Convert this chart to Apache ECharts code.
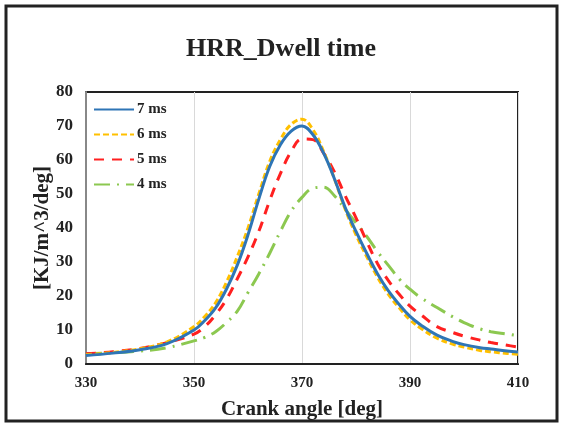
<!DOCTYPE html>
<html lang="en">
<head>
  <meta charset="UTF-8">
  <title>HRR_Dwell time</title>
  <style>
    html, body { margin: 0; padding: 0; background: #fff; }
    #main { width: 562px; height: 425px; }
  </style>
  <script src="https://cdn.jsdelivr.net/npm/echarts@6/dist/echarts.min.js"></script>
</head>
<body>
  <div id="main"></div>
  <script>
    // crank angle points (deg)
    var angles = [330, 335, 340, 345, 350, 352, 354, 356, 358, 360, 362, 364, 366, 368, 370, 372, 374, 376, 378, 380, 382, 384, 386, 388, 390, 392, 395, 398, 400, 403, 405, 408, 410];
    // heat release rate per dwell time
    var hrr7 = [2.5, 3.2, 4.2, 6, 10, 12.8, 16.5, 22, 29, 38, 48.5, 58, 64.5, 68.5, 70, 67.5, 62, 54.5, 46, 39, 32.5, 26.5, 21.5, 17.5, 14, 11.5, 8.5, 6.6, 5.7, 4.8, 4.4, 3.8, 3.5];
    var hrr6 = [2.7, 3.4, 4.5, 6.5, 11, 14, 18, 24, 31.5, 40, 50, 59.5, 66, 70.5, 72, 69, 62.5, 54.5, 45.5, 38, 31.5, 25.5, 20.5, 16.5, 13, 10.5, 7.6, 5.8, 5, 4, 3.6, 3.1, 2.9];
    var hrr5 = [3, 3.6, 4.6, 6.3, 8.8, 11, 14.5, 19, 25, 31.5, 39, 48, 56, 62.5, 66.2, 66, 62, 56.5, 49.5, 43, 36, 29.5, 24.5, 20.5, 17, 14.5, 11, 9.2, 8.2, 7, 6.3, 5.5, 5];
    var hrr4 = [3, 3.3, 3.8, 4.8, 6.8, 7.8, 9.5, 12.2, 15.5, 21, 26.5, 32.5, 39, 45, 49, 51.7, 52, 49.5, 45.5, 41.5, 37.5, 33, 29, 25, 22, 19.5, 16.6, 13.8, 12.2, 10.3, 9.5, 8.8, 8.3];

    var names = ['7 ms', '6 ms', '5 ms', '4 ms'];
    var colors = ['#2E75B6', '#FFC000', '#FF2020', '#8CC850'];
    var dashes = ['solid', [6, 3], [10, 8], [16, 7, 2, 7]];
    var values = [hrr7, hrr6, hrr5, hrr4];

    function pairs(ys) {
      return angles.map(function (a, i) { return [a, ys[i]]; });
    }

    var serif = 'Liberation Serif';
    var series = names.map(function (n, i) {
      return {
        name: n,
        type: 'line',
        data: pairs(values[i]),
        smooth: 0.4,
        showSymbol: false,
        symbol: 'none',
        lineStyle: { color: colors[i], width: 3, type: dashes[i] },
        itemStyle: { color: colors[i] },
        z: 10 - i
      };
    });

    var myChart = echarts.init(document.getElementById('main'));
    var option = {
      backgroundColor: '#fff',
      animation: false,
      title: {
        text: 'HRR_Dwell time',
        left: 'center',
        top: 31,
        textStyle: { fontFamily: serif, fontWeight: 'bold', fontSize: 26, color: '#222' }
      },
      // outer frame
      graphic: [{
        type: 'rect',
        shape: { x: 6, y: 6, width: 551, height: 415 },
        style: { fill: 'none', stroke: '#222', lineWidth: 3 },
        silent: true
      }],
      legend: {
        data: names,
        orient: 'vertical',
        left: 88,
        top: 97,
        itemWidth: 40,
        itemHeight: 12,
        itemGap: 10,
        itemStyle: { opacity: 0 },
        textStyle: { fontFamily: serif, fontWeight: 'bold', fontSize: 15, color: '#222', padding: [0, 0, 0, -2] }
      },
      grid: {
        left: 86,
        right: 44,
        top: 92,
        bottom: 60,
        show: true,
        borderColor: '#222',
        borderWidth: 2,
        containLabel: false
      },
      xAxis: {
        type: 'value',
        min: 330,
        max: 410,
        interval: 20,
        name: 'Crank angle [deg]',
        nameLocation: 'middle',
        nameGap: 35,
        nameTextStyle: { fontFamily: serif, fontWeight: 'bold', fontSize: 21, color: '#222' },
        axisLine: { show: true, lineStyle: { color: '#222', width: 2 } },
        axisTick: { show: false },
        axisLabel: { fontFamily: serif, fontWeight: 'bold', fontSize: 15, color: '#222', margin: 12 },
        splitLine: { show: true, lineStyle: { color: '#d9d9d9', width: 1 } }
      },
      yAxis: {
        type: 'value',
        min: 0,
        max: 80,
        interval: 10,
        name: '[KJ/m^3/deg]',
        nameLocation: 'middle',
        nameGap: 33,
        nameMoveOverlap: false,
        nameTextStyle: { fontFamily: serif, fontWeight: 'bold', fontSize: 21, color: '#222' },
        axisLine: { show: true, lineStyle: { color: '#888', width: 2 } },
        axisTick: { show: false },
        axisLabel: { fontFamily: serif, fontWeight: 'bold', fontSize: 17, color: '#222', margin: 13 },
        splitLine: { show: false }
      },
      series: series
    };
    myChart.setOption(option);
  </script>
</body>
</html>
